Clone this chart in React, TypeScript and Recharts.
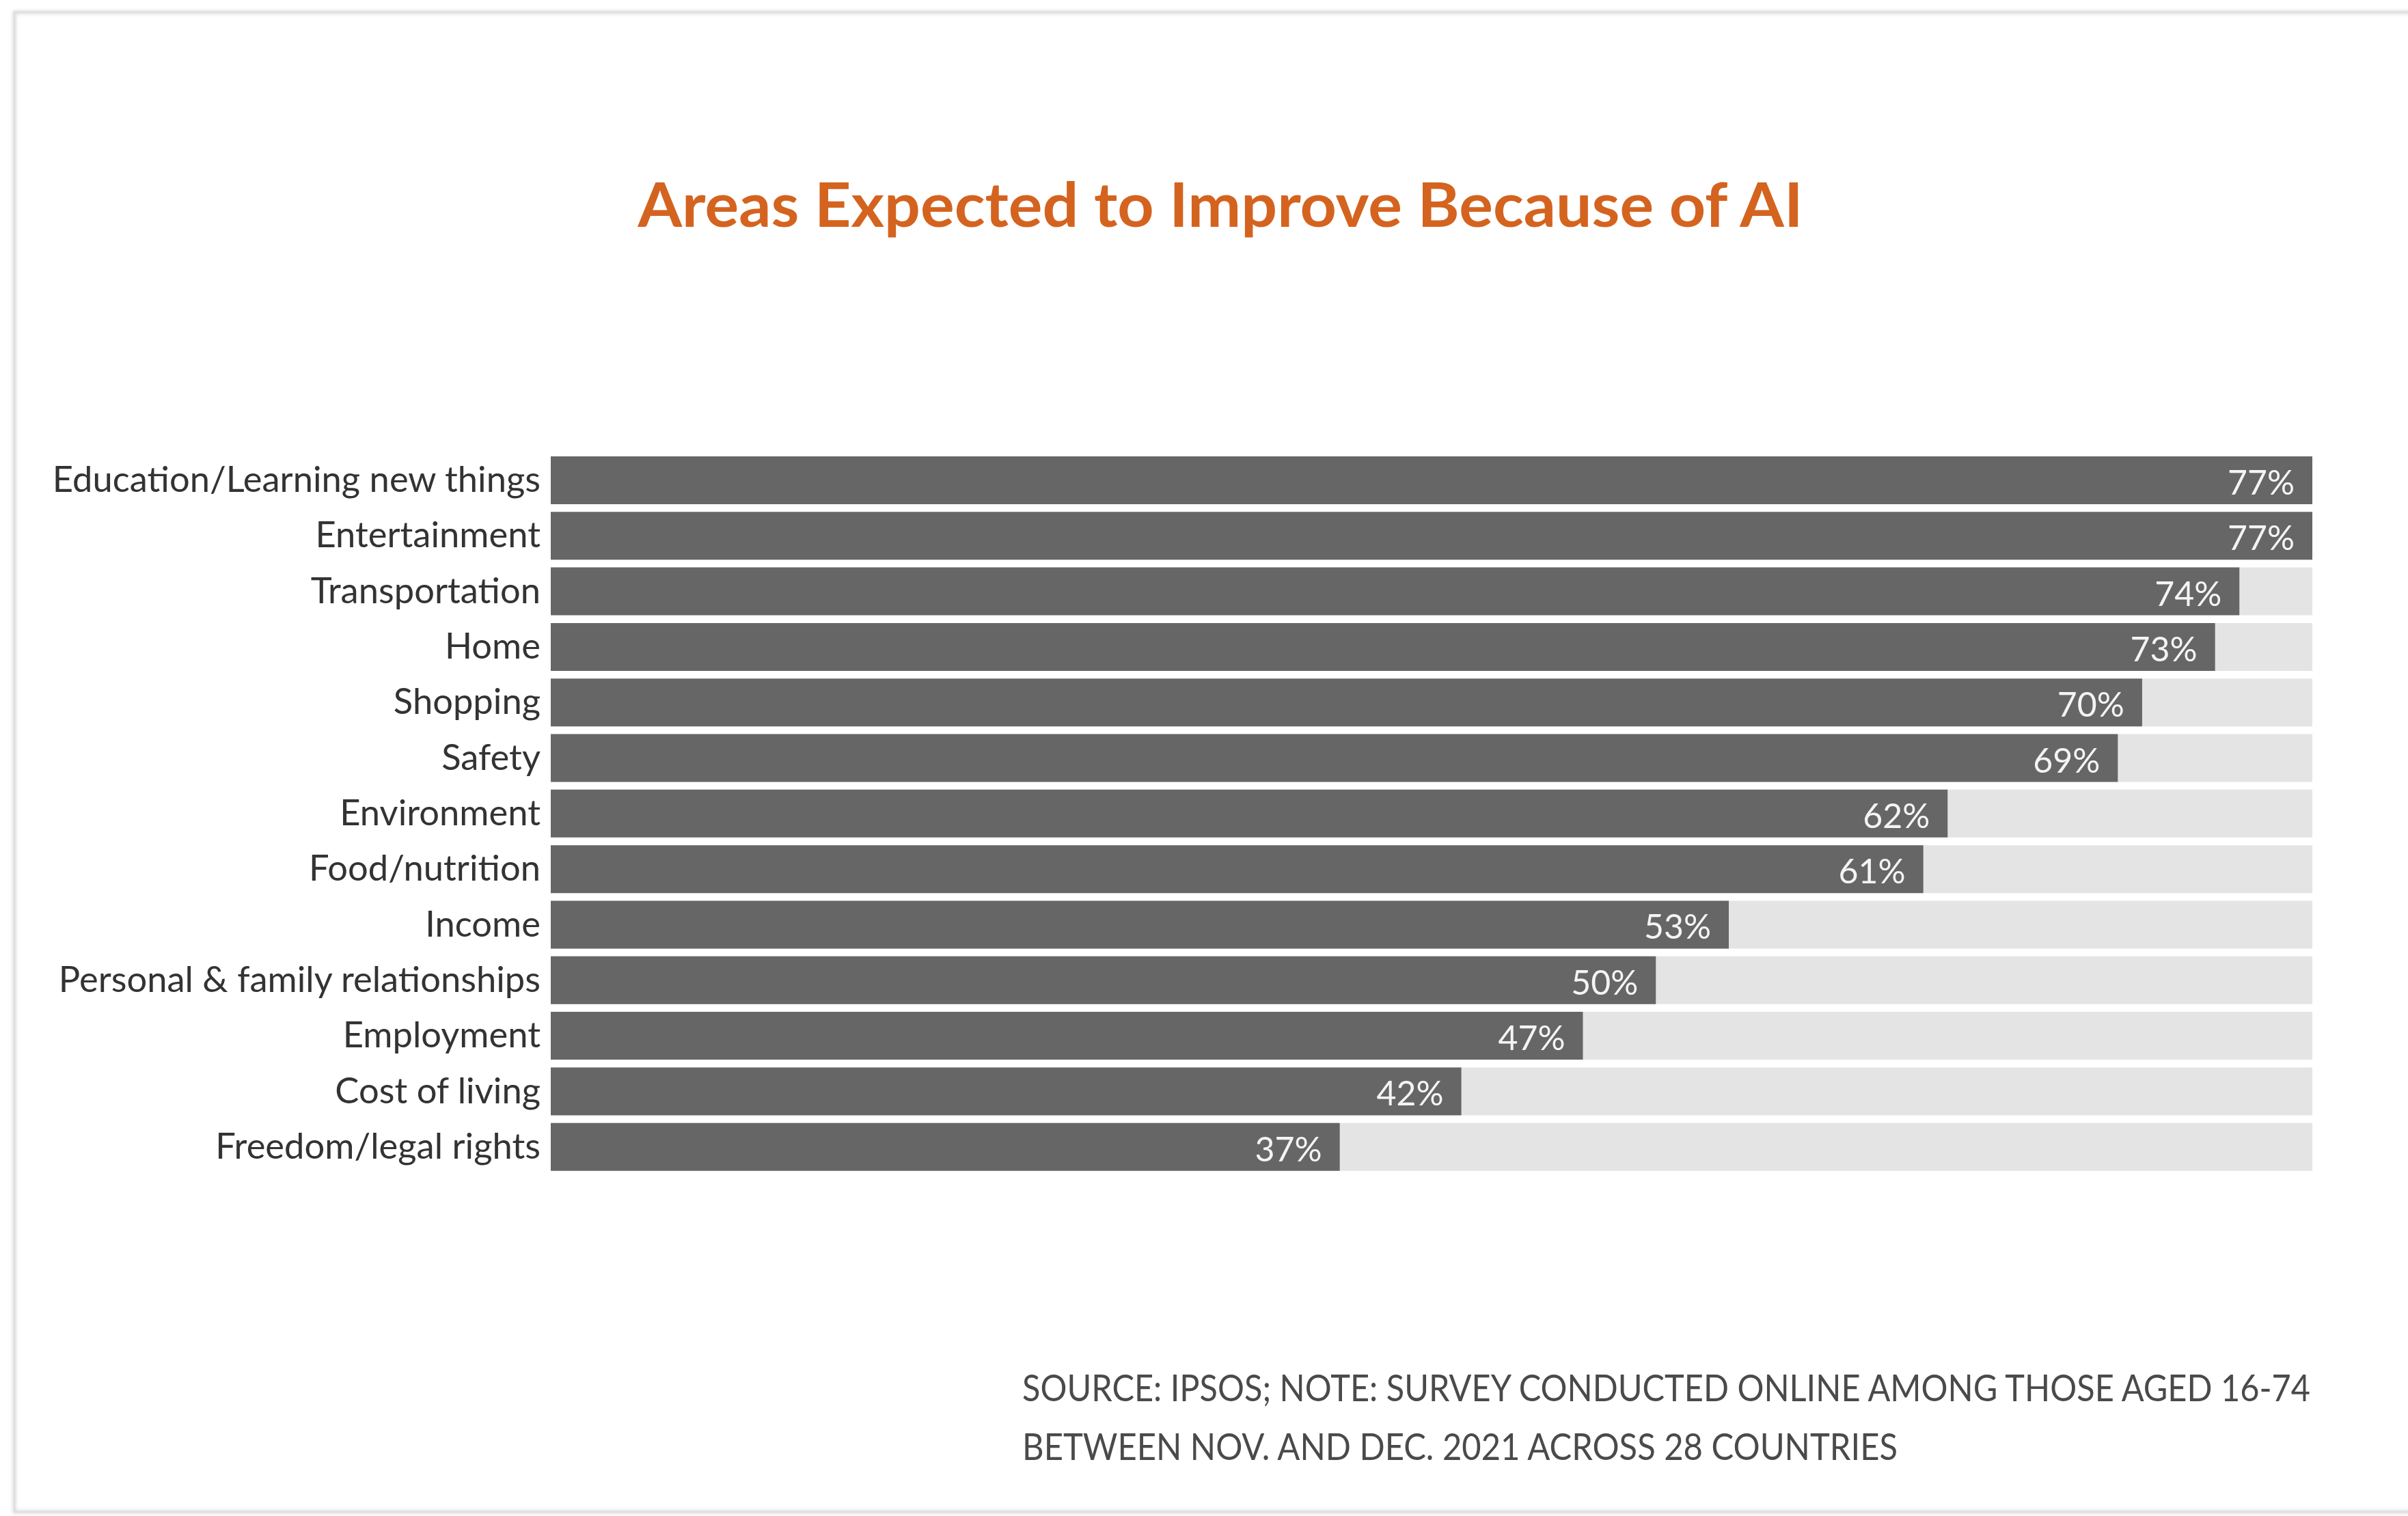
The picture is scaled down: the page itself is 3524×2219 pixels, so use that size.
import React from 'react';
import { BarChart, Bar, XAxis, YAxis, LabelList } from 'recharts';

const titleText = 'Areas Expected to Improve Because of AI';
const sourceLines = [
  'SOURCE: IPSOS; NOTE: SURVEY CONDUCTED ONLINE AMONG THOSE AGED 16-74',
  'BETWEEN NOV. AND DEC. 2021 ACROSS 28 COUNTRIES',
];

const categories = [
  'Education/Learning new things',
  'Entertainment',
  'Transportation',
  'Home',
  'Shopping',
  'Safety',
  'Environment',
  'Food/nutrition',
  'Income',
  'Personal & family relationships',
  'Employment',
  'Cost of living',
  'Freedom/legal rights',
];

const values = [77, 77, 74, 73, 70, 69, 62, 61, 53, 50, 47, 42, 37];

const data = categories.map((c, i) => ({ category: c, value: values[i] }));

const FONT = 'Lato, "Open Sans", sans-serif';
const W = 3524;
const H = 2219;

const CategoryTick = (props: any) => {
  const { x, y, payload } = props;
  return (
    <text
      x={x}
      y={y}
      dy={-3}
      textAnchor="end"
      dominantBaseline="central"
      fontFamily={FONT}
      fontSize={52.5}
      fill="#333333"
    >
      {payload.value}
    </text>
  );
};

const ValueLabel = (props: any) => {
  const { x, y, width, height, value } = props;
  return (
    <text
      x={x + width - 26}
      y={y + height / 2 + 2}
      textAnchor="end"
      dominantBaseline="central"
      fontFamily={FONT}
      fontSize={50}
      fill="#f4f4f4"
    >
      {`${value}%`}
    </text>
  );
};

export default function App() {
  return (
    <div style={{ position: 'absolute', left: 0, top: 0, width: W, height: H, background: '#ffffff', overflow: 'hidden' }}>
      <svg width={W} height={H} style={{ position: 'absolute', left: 0, top: 0 }}>
        <defs>
          <filter id="soft" x="-5%" y="-5%" width="110%" height="110%">
            <feGaussianBlur stdDeviation="2.5" />
          </filter>
        </defs>
        <rect x={21} y={18} width={W + 50} height={2195} fill="none" stroke="#d2d2d2" strokeWidth={4} filter="url(#soft)" />
        <rect x={21} y={18} width={W + 50} height={2195} fill="none" stroke="#dedede" strokeWidth={2} />
        <text
          x={1786}
          y={332}
          textAnchor="middle"
          fontFamily={FONT}
          fontSize={90}
          fontWeight={700}
          fill="#d4631f"
          textLength={1705}
          lengthAdjust="spacingAndGlyphs"
        >
          {titleText}
        </text>
        <g transform="translate(1496 2051) scale(1 1.14)">
          <text
            x={0}
            y={0}
            fontFamily={FONT}
            fontSize={48}
            fill="#4a4a4a"
            textLength={1885}
            lengthAdjust="spacingAndGlyphs"
          >
            {sourceLines[0]}
          </text>
        </g>
        <g transform="translate(1496 2137) scale(1 1.14)">
          <text
            x={0}
            y={0}
            fontFamily={FONT}
            fontSize={48}
            fill="#4a4a4a"
            textLength={1281}
            lengthAdjust="spacingAndGlyphs"
          >
            {sourceLines[1]}
          </text>
        </g>
      </svg>
      <div style={{ position: 'absolute', left: 0, top: 0 }}>
        <BarChart
          width={W}
          height={H}
          data={data}
          layout="vertical"
          margin={{ top: 662, right: 140, bottom: 500, left: 6 }}
          barSize={70}
        >
          <XAxis type="number" hide domain={[4.55, 77]} allowDataOverflow />
          <YAxis
            type="category"
            dataKey="category"
            width={800}
            axisLine={false}
            tickLine={false}
            tickSize={0}
            tickMargin={15}
            interval={0}
            tick={<CategoryTick />}
          />
          <Bar
            dataKey="value"
            fill="#666666"
            background={{ fill: '#e4e4e4' }}
            isAnimationActive={false}
          >
            <LabelList dataKey="value" content={<ValueLabel />} />
          </Bar>
        </BarChart>
      </div>
    </div>
  );
}
